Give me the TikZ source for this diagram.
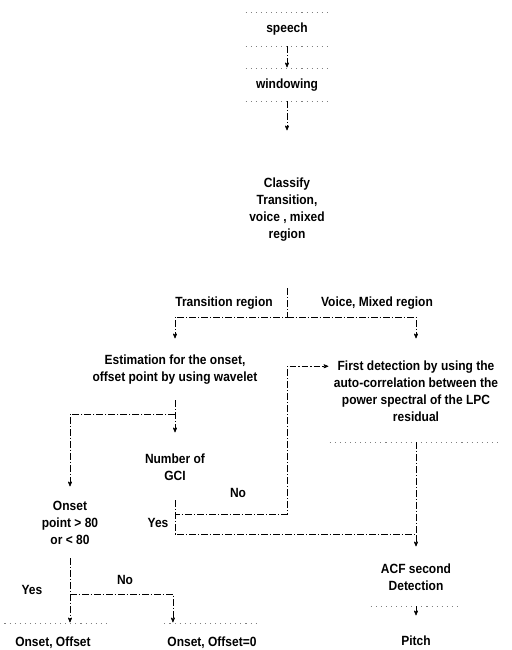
\documentclass[tikz,border=0pt]{standalone}
\usepackage{fontspec}
\setmainfont{Liberation Sans}[FakeStretch=0.9]
\usepackage{tikz}
\usetikzlibrary{arrows,calc}

\begin{document}
\begin{tikzpicture}[x=0.75pt,y=-0.75pt,->,>=stealth',shorten >=1pt,
      font=\bfseries\fontsize{10}{12.75}\selectfont,
      link/.style={thin,dash pattern=on 5pt off 1.5pt on 1pt off 1.5pt},
      rim/.style={-,gray,thin,dash pattern=on 0.8pt off 3pt},
      blk/.style={align=center,inner sep=0pt},
      tag/.style={inner sep=1pt}]
      \useasboundingbox (0,0) rectangle (511,650);

      \node[blk,minimum width=61.5pt,minimum height=24.75pt] (speech) at (287,29.5) {speech};
      \node[blk,minimum width=61.5pt,minimum height=24pt] (window) at (287,85) {windowing};
      \node[blk,minimum height=117pt] (classify) at (287,210) {
        Classify\\Transition,\\voice , mixed\\region};

      \node[tag] (trans) at (224,303) {Transition region};
      \node[tag] (mixed) at (377,303) {Voice, Mixed region};

      \node[blk,minimum height=45pt] (estim) at (175,370) {
        Estimation for the onset,\\offset point by using wavelet};
      \node[blk,minimum width=129pt,minimum height=76.5pt] (first) at (416,391) {
        First detection by using the\\auto-correlation between the\\power spectral of the LPC\\residual};

      \node[blk,minimum height=49.5pt] (gci) at (175,467) {Number of\\GCI};
      \node[blk,minimum height=52.5pt] (onset) at (70,523) {Onset\\point > 80\\or < 80};
      \node[blk,minimum width=67.5pt,minimum height=43.5pt] (acf) at (416,577) {ACF second\\Detection};
      \node[blk,minimum height=36pt] (pitch) at (416,641) {Pitch};
      \node[blk,minimum width=80pt,minimum height=28.5pt] (both) at (53,643) {Onset, Offset};
      \node[blk,minimum width=71pt,minimum height=28.5pt] (off0) at (212,643) {Onset, Offset=0};

      \node[tag] (gcino) at (238,493) {No};
      \node[tag] (gciyes) at (158,523) {Yes};
      \node[tag] (onsetno) at (125,580) {No};
      \node[tag] (onsetyes) at (32,590) {Yes};

      \coordinate (split) at (287,317);
      \coordinate (split2) at (175,414);
      \coordinate (noturn) at (287,514);
      \coordinate (yesturn) at (416,534);
      \coordinate (onsetsplit) at (70,594);

      \draw[rim] (speech.north west) -- (speech.north east) (speech.south west) -- (speech.south east);
      \draw[rim] (window.north west) -- (window.north east) (window.south west) -- (window.south east);
      \draw[rim] (first.south west) -- (first.south east);
      \draw[rim] (acf.south west) -- (acf.south east);
      \draw[rim] (both.north west) -- (both.north east) (off0.north west) -- (off0.north east);

      \draw[link] (speech) -- (window);
      \draw[link] (window) -- (classify);
      \draw[link] (classify.south) -- (split) -| (estim.north);
      \draw[link] (split) -| (first.north);
      \draw[link] (estim) -- (gci);
      \draw[link] (split2) -| (onset.north);
      \draw[link] (gci.south) |- (noturn) |- (first.164);
      \draw[link] (gci.south) |- (yesturn) -- (acf.north);
      \draw[link,-] (first.south) -- (yesturn);
      \draw[link] (acf) -- (pitch);
      \draw[link,-] (onset.south) -- (onsetsplit);
      \draw[link] (onsetsplit) -- (both.north -| onsetsplit);
      \draw[link] (onsetsplit) -| ([xshift=6.4pt]off0.north west);
\end{tikzpicture}
\end{document}
